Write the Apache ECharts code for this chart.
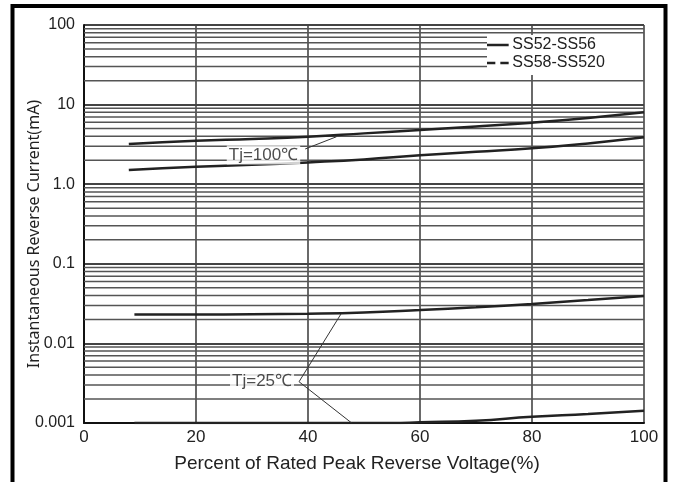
<!DOCTYPE html>
<html>
<head>
<meta charset="utf-8">
<script src="https://cdn.jsdelivr.net/npm/echarts@6/dist/echarts.min.js"></script>
<style>
html,body{margin:0;padding:0;background:#fff;}
#chart{width:673px;height:482px;}
</style>
</head>
<body>
<div id="chart"></div>
<script>
// ---- data ----
const xTicks = [0, 20, 40, 60, 80, 100];
const yTickLabels = ['0.001', '0.01', '0.1', '1.0', '10', '100'];
const decades = [0.001, 0.01, 0.1, 1, 10];
const minorMultipliers = [2, 3, 4, 5, 6, 7, 8, 9];

const curve100Upper = [[8,3.2],[20,3.52],[30,3.7],[40,3.95],[50,4.35],[60,4.8],[70,5.3],[80,5.93],[90,6.8],[100,8.0]];
const curve100Lower = [[8,1.51],[20,1.66],[30,1.75],[40,1.88],[50,2.05],[60,2.31],[70,2.55],[80,2.82],[90,3.25],[100,3.88]];
const curve25Upper = [[9,0.023],[20,0.023],[30,0.0232],[40,0.0236],[50,0.0245],[60,0.0263],[70,0.0285],[80,0.0313],[90,0.035],[100,0.0394]];
const curve25Lower = [[9,0.001],[30,0.001],[50,0.001],[55,0.001],[60,0.00102],[70,0.00107],[80,0.0012],[90,0.0013],[100,0.00143]];

const leader100 = [[39.5,2.77],[45.1,3.95]];
const leader25 = [[45.9,0.0235],[38.4,0.0033],[47.8,0.001]];
const annotations = [
  {name:'Tj=100℃', value:[39.5,2.77], offset:[0,6]},
  {name:'Tj=25℃', value:[38.4,0.0033], offset:[0,0]}
];

const seriesNames = ['SS52-SS56', 'SS58-SS520'];

// ---- chart ----
const minorValues = [];
decades.forEach(d => minorMultipliers.forEach(m => minorValues.push(+(d*m).toPrecision(3))));

const chart = echarts.init(document.getElementById('chart'), null, {renderer:'canvas'});
const font = 'Liberation Sans, Arial, sans-serif';
const lineCol = '#222';

const gridSeries = minorValues.map(v => ({
  name:'g' + v, type:'line', silent:true, symbol:'none', z:1,
  data:[[0, v], [(v >= 30 && v <= 70) ? 72 : 100, v]],
  lineStyle:{color:'#555', width:1.5}
}));

const curveSeries = [curve100Upper, curve100Lower, curve25Upper, curve25Lower].map(d => ({
  name: seriesNames[0], type:'line', data:d, smooth:true, symbol:'none',
  lineStyle:{color:lineCol, width:2.5}, itemStyle:{color:lineCol}, z:5, silent:true
}));

chart.setOption({
  animation:false,
  backgroundColor:'#fff',
  graphic:[{type:'rect', shape:{x:12.5, y:6, width:653, height:500}, style:{fill:'none', stroke:'#000', lineWidth:4}, z:100}],
  grid:{left:84, right:29, top:25, bottom:59},
  legend:{
    data:[
      {name:seriesNames[0], icon:'path://M0,0H26V3H0Z'},
      {name:seriesNames[1], icon:'path://M0,0H10V3H0Z M16,0H26V3H16Z'}
    ],
    orient:'vertical', left:487, top:35, itemWidth:27, itemHeight:2.5, itemGap:2,
    backgroundColor:'#fff', padding:[2,30,4,0],
    itemStyle:{color:lineCol, borderWidth:0},
    textStyle:{fontFamily:font, fontSize:16, color:'#222', padding:[0,0,0,-4]},
    selectedMode:false, z:10
  },
  xAxis:{
    type:'value', min:0, max:100, interval:20,
    name:'Percent of Rated Peak Reverse Voltage(%)', nameLocation:'middle', nameGap:31, nameMoveOverlap:false,
    nameTextStyle:{fontFamily:font, fontSize:19, color:'#222', padding:[0,14,0,0]},
    axisLine:{lineStyle:{color:'#111', width:2}},
    axisTick:{show:false},
    axisLabel:{margin:6, fontFamily:font, fontSize:17, color:'#222', formatter:v => String(xTicks[xTicks.indexOf(v)])},
    splitLine:{show:true, lineStyle:{color:'#444', width:1.6}}
  },
  yAxis:{
    type:'log', logBase:10, min:0.001, max:100,
    name:'Instantaneous Reverse Current(mA)', nameLocation:'middle', nameGap:42, nameMoveOverlap:false,
    nameTextStyle:{fontFamily:'Noto Sans, sans-serif', fontSize:16, color:'#222', padding:[0,20,0,0]},
    axisLine:{show:true, lineStyle:{color:'#111', width:2}},
    axisTick:{show:false},
    axisLabel:{margin:9, fontFamily:font, fontSize:16, color:'#222',
      formatter:v => yTickLabels[Math.round(Math.log10(v)) + 3]},
    splitLine:{show:true, lineStyle:{color:'#444', width:1.8}}
  },
  series:[
    ...gridSeries,
    ...curveSeries,
    {name:seriesNames[1], type:'line', data:[], symbol:'none',
      lineStyle:{color:lineCol, width:2.5, type:[7,5]}, itemStyle:{color:lineCol}},
    {name:'lead100', type:'line', data:leader100, symbol:'none', silent:true,
      lineStyle:{color:'#333', width:1}, z:6},
    {name:'lead25', type:'line', data:leader25, symbol:'none', silent:true,
      lineStyle:{color:'#333', width:1}, z:6},
    {name:'notes', type:'scatter', symbolSize:0, silent:true, z:7,
      data:annotations.map(a => ({name:a.name, value:a.value,
        label:{show:true, position:'left', distance:5, offset:a.offset, formatter:a.name,
          fontFamily:font, fontSize:17, color:'#222', backgroundColor:'#fff', padding:[1,2]}}))}
  ]
});
</script>
</body>
</html>
